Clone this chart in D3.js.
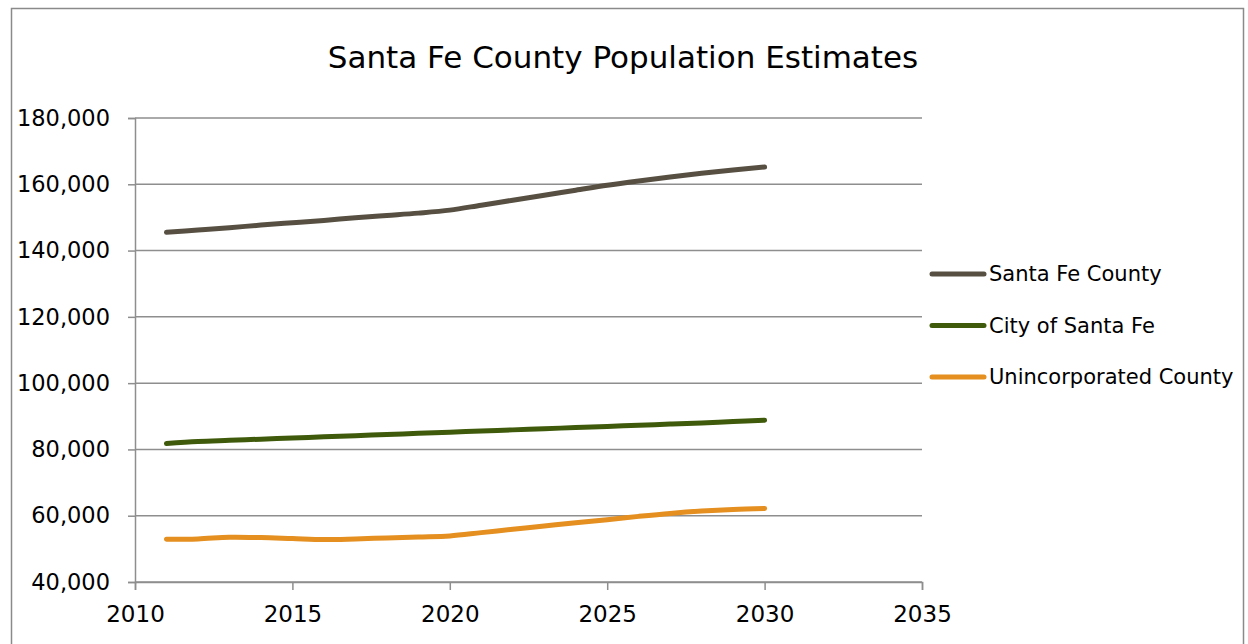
<!DOCTYPE html>
<html>
<head>
<meta charset="utf-8">
<script src="https://cdn.jsdelivr.net/npm/d3@7"></script>
<style>
  html, body { margin: 0; padding: 0; background: #fff; }
  svg { display: block; font-family: "DejaVu Sans", sans-serif; }
</style>
</head>
<body>
<svg id="chart" width="1248" height="644"></svg>
<script>
// Population estimates, 2011–2030
const years = [2011, 2012, 2013, 2014, 2015, 2016, 2017, 2018, 2019, 2020,
               2021, 2022, 2023, 2024, 2025, 2026, 2027, 2028, 2029, 2030];
const santaFeCounty = [145500, 146200, 146900, 147700, 148400, 149100, 149900, 150600, 151300, 152200,
                       153700, 155200, 156700, 158200, 159700, 161000, 162200, 163300, 164300, 165200];
const cityOfSantaFe = [81800, 82400, 82750, 83100, 83450, 83800, 84150, 84500, 84850, 85200,
                       85550, 85900, 86250, 86600, 86950, 87300, 87650, 88000, 88400, 88800];
const unincorporated = [52900, 53000, 53500, 53400, 53100, 52800, 53000, 53300, 53600, 53900,
                        54900, 55900, 56900, 57900, 58800, 59800, 60700, 61400, 61900, 62200];
const seriesNames = ["Santa Fe County", "City of Santa Fe", "Unincorporated County"];
const seriesColors = ["#575042", "#3f5a0a", "#e48f1f"];
const xTicks = [2010, 2015, 2020, 2025, 2030, 2035];
const yTicks = [40000, 60000, 80000, 100000, 120000, 140000, 160000, 180000];
const titleText = "Santa Fe County Population Estimates";

const series = [santaFeCounty, cityOfSantaFe, unincorporated].map((vals, i) => ({
  name: seriesNames[i],
  color: seriesColors[i],
  points: years.map((yr, j) => ({ year: yr, value: vals[j] }))
}));

const svg = d3.select("#chart");
const font = "'Century Gothic', 'DejaVu Sans', sans-serif";

// outer frame
svg.append("rect")
  .attr("x", 11.5).attr("y", 8.5)
  .attr("width", 1232).attr("height", 660)
  .attr("fill", "#fff").attr("stroke", "#8a8a8a").attr("stroke-width", 1.5);

const x = d3.scaleLinear().domain([2010, 2035]).range([135, 922]);
const y = d3.scaleLinear().domain([40000, 180000]).range([582, 118]);

// horizontal gridlines
svg.append("g")
  .selectAll("line")
  .data(yTicks)
  .join("line")
  .attr("x1", x(2010)).attr("x2", x(2035))
  .attr("y1", d => y(d)).attr("y2", d => y(d))
  .attr("stroke", "#8e8e8e").attr("stroke-width", 1.5);

// y axis
const yAxis = svg.append("g")
  .attr("transform", `translate(${x(2010)},0)`)
  .call(d3.axisLeft(y).tickValues(yTicks).tickFormat(d3.format(",")).tickSize(7).tickPadding(18));
yAxis.select(".domain").attr("stroke", "#8e8e8e").attr("stroke-width", 1.5);
yAxis.selectAll(".tick line").attr("stroke", "#8e8e8e").attr("stroke-width", 1.5);
yAxis.selectAll(".tick text")
  .attr("fill", "#000").style("font-family", font).style("font-size", "22.5px");

// x axis
const xAxis = svg.append("g")
  .attr("transform", `translate(0,${y(40000)})`)
  .call(d3.axisBottom(x).tickValues(xTicks).tickFormat(d3.format("d")).tickSize(8).tickPadding(16));
xAxis.select(".domain").attr("stroke", "#8e8e8e").attr("stroke-width", 1.5);
xAxis.selectAll(".tick line").attr("stroke", "#8e8e8e").attr("stroke-width", 1.5);
xAxis.selectAll(".tick text")
  .attr("fill", "#000").style("font-family", font).style("font-size", "23px");

// series lines
const line = d3.line()
  .x(d => x(d.year))
  .y(d => y(d.value))
  .curve(d3.curveCatmullRom.alpha(0.5));

svg.append("g")
  .selectAll("path")
  .data(series)
  .join("path")
  .attr("d", d => line(d.points))
  .attr("fill", "none")
  .attr("stroke", d => d.color)
  .attr("stroke-width", 5)
  .attr("stroke-linecap", "round")
  .attr("stroke-linejoin", "round");

// title
svg.append("text")
  .attr("x", 623).attr("y", 68)
  .attr("text-anchor", "middle")
  .style("font-family", font).style("font-size", "31px")
  .attr("fill", "#000")
  .text(titleText);

// legend
const legend = svg.append("g")
  .selectAll("g")
  .data(series)
  .join("g")
  .attr("transform", (d, i) => `translate(932,${274 + i * 51.5})`);
legend.append("line")
  .attr("x1", 0).attr("x2", 52)
  .attr("stroke", d => d.color).attr("stroke-width", 5).attr("stroke-linecap", "round");
legend.append("text")
  .attr("x", 57).attr("dy", "0.35em")
  .style("font-family", font).style("font-size", "21px")
  .attr("fill", "#000")
  .text(d => d.name);
</script>
</body>
</html>
